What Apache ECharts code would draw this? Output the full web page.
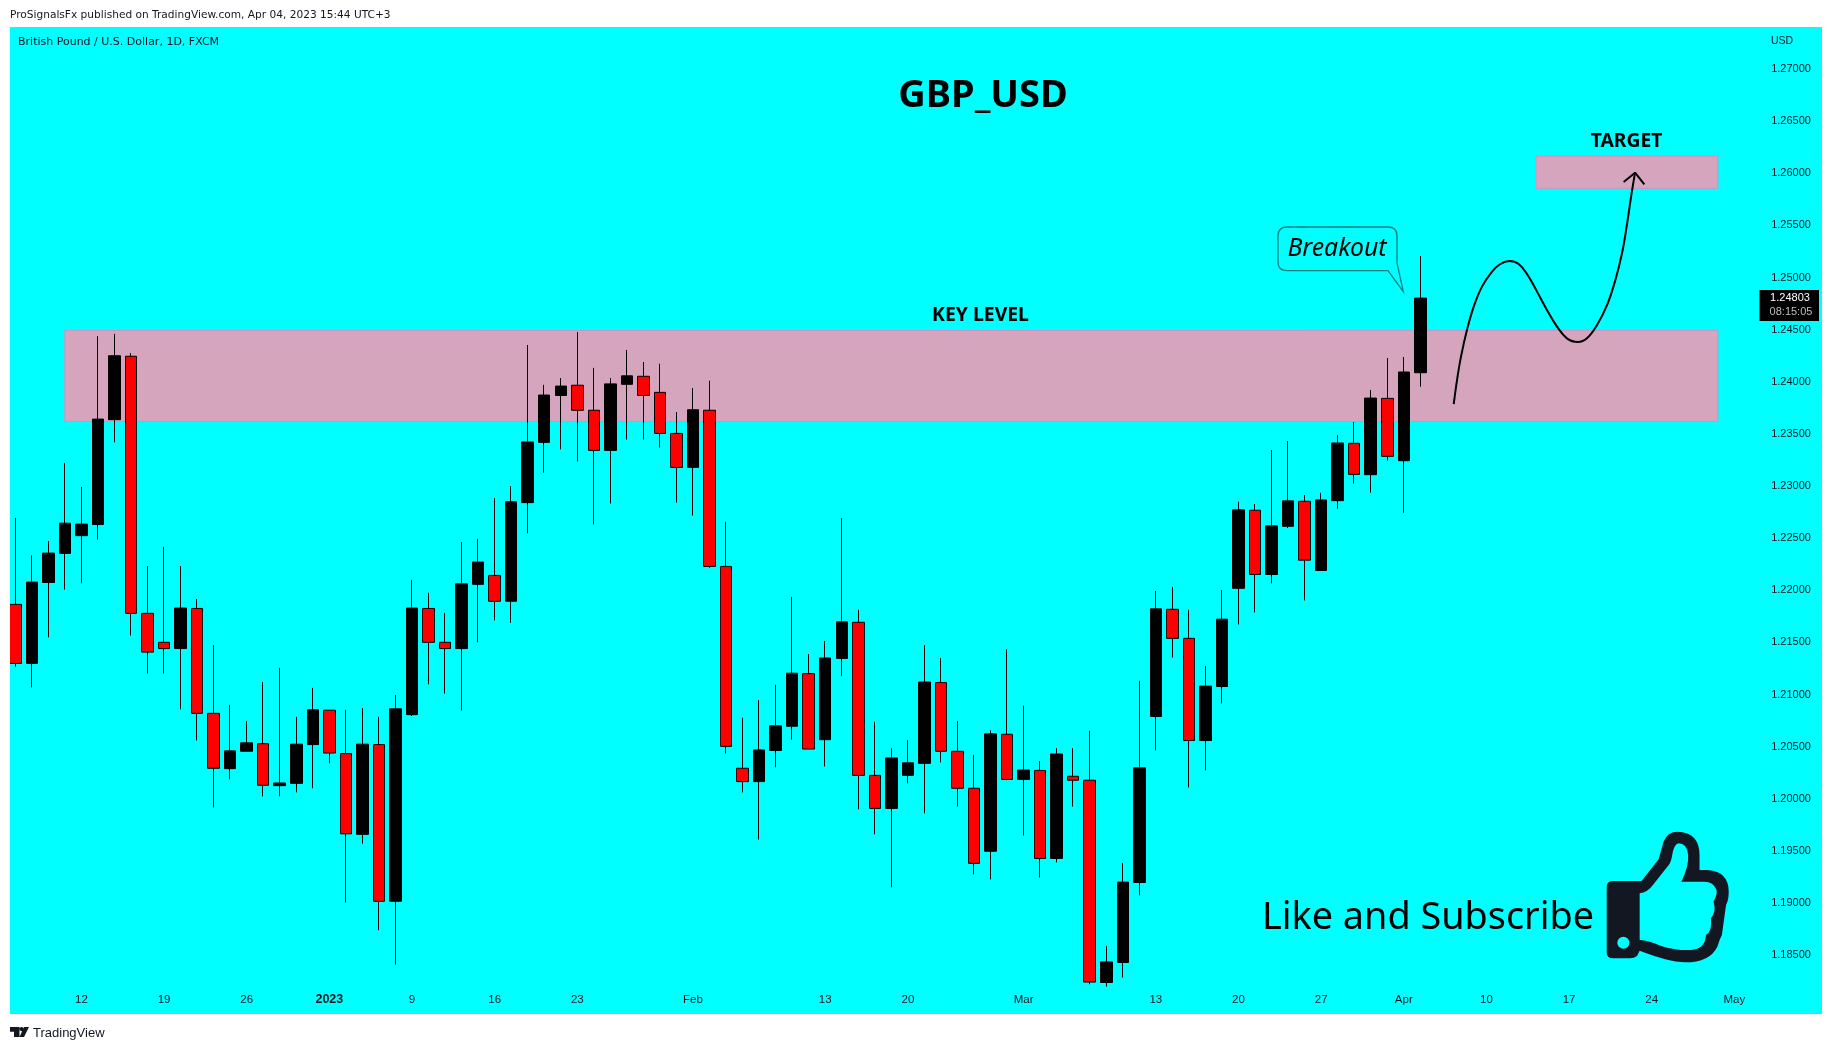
<!DOCTYPE html>
<html><head><meta charset="utf-8">
<style>html,body{margin:0;padding:0;background:#fff}#c{width:1834px;height:1050px}</style>
<script src="https://cdn.jsdelivr.net/npm/echarts@6/dist/echarts.min.js"></script>
</head><body><div id="c"></div>
<script>
const categories = [
"2022-12-06","2022-12-07","2022-12-08","2022-12-09","2022-12-12","2022-12-13","2022-12-14","2022-12-15","2022-12-16",
"2022-12-19","2022-12-20","2022-12-21","2022-12-22","2022-12-23","2022-12-26","2022-12-27","2022-12-28","2022-12-29","2022-12-30",
"2023-01-02","2023-01-03","2023-01-04","2023-01-05","2023-01-06","2023-01-09","2023-01-10","2023-01-11","2023-01-12","2023-01-13",
"2023-01-16","2023-01-17","2023-01-18","2023-01-19","2023-01-20","2023-01-23","2023-01-24","2023-01-25","2023-01-26","2023-01-27",
"2023-01-30","2023-01-31","2023-02-01","2023-02-02","2023-02-03","2023-02-06","2023-02-07","2023-02-08","2023-02-09","2023-02-10",
"2023-02-13","2023-02-14","2023-02-15","2023-02-16","2023-02-17","2023-02-20","2023-02-21","2023-02-22","2023-02-23","2023-02-24",
"2023-02-27","2023-02-28","2023-03-01","2023-03-02","2023-03-03","2023-03-06","2023-03-07","2023-03-08","2023-03-09","2023-03-10",
"2023-03-13","2023-03-14","2023-03-15","2023-03-16","2023-03-17","2023-03-20","2023-03-21","2023-03-22","2023-03-23","2023-03-24",
"2023-03-27","2023-03-28","2023-03-29","2023-03-30","2023-03-31","2023-04-03","2023-04-04","2023-04-05","2023-04-06","2023-04-07",
"2023-04-10","2023-04-11","2023-04-12","2023-04-13","2023-04-14","2023-04-17","2023-04-18","2023-04-19","2023-04-20","2023-04-21",
"2023-04-24","2023-04-25","2023-04-26","2023-04-27","2023-04-28","2023-05-01","2023-05-02"];
const tickLabels = {"2022-12-12":"12","2022-12-19":"19","2022-12-26":"26","2023-01-02":"2023","2023-01-09":"9","2023-01-16":"16","2023-01-23":"23","2023-02-01":"Feb","2023-02-13":"13","2023-02-20":"20","2023-03-01":"Mar","2023-03-13":"13","2023-03-20":"20","2023-03-27":"27","2023-04-03":"Apr","2023-04-10":"10","2023-04-17":"17","2023-04-24":"24","2023-05-01":"May"};
const opens = [1.21865,1.21299,1.22075,1.22353,1.22524,1.22631,1.23637,1.24245,1.21779,1.21501,1.21441,1.21826,1.20820,1.20289,1.20456,1.20529,1.20126,1.20148,1.20520,1.20850,1.20434,1.19659,1.20520,1.19017,1.20807,1.21826,1.21501,1.21441,1.22057,1.22143,1.21895,1.22841,1.23419,1.23869,1.23967,1.23727,1.23342,1.23976,1.24053,1.23899,1.23505,1.23179,1.23727,1.22229,1.20293,1.20165,1.20464,1.20696,1.21201,1.20567,1.21347,1.21693,1.20225,1.19908,1.20225,1.20340,1.21115,1.20456,1.20101,1.19497,1.20619,1.20186,1.20272,1.19428,1.20216,1.20178,1.18238,1.18430,1.19197,1.20790,1.21818,1.21539,1.20559,1.21077,1.22019,1.22768,1.22152,1.22614,1.22854,1.22190,1.22860,1.23410,1.23109,1.23841,1.23243,1.24087];
const closes = [1.21299,1.22079,1.22357,1.22644,1.22635,1.23642,1.24250,1.21779,1.21407,1.21441,1.21830,1.20820,1.20293,1.20460,1.20537,1.20130,1.20152,1.20524,1.20854,1.20439,1.19664,1.20524,1.19017,1.20863,1.21830,1.21501,1.21441,1.22062,1.22271,1.21895,1.22850,1.23423,1.23873,1.23959,1.23727,1.23342,1.23980,1.24057,1.23869,1.23505,1.23179,1.23732,1.22229,1.20503,1.20165,1.20469,1.20700,1.21205,1.20477,1.21351,1.21698,1.20225,1.19908,1.20392,1.20345,1.21120,1.20456,1.20101,1.19381,1.20623,1.20186,1.20276,1.19428,1.20430,1.20178,1.18242,1.18435,1.19201,1.20297,1.21822,1.21539,1.20559,1.21081,1.21723,1.22772,1.22152,1.22618,1.22858,1.22289,1.22867,1.23413,1.23112,1.23844,1.23285,1.24094,1.24803];
const lows = [1.21265,1.21068,1.21548,1.22006,1.22066,1.22486,1.23419,1.21565,1.21201,1.21201,1.20858,1.20559,1.19916,1.20186,1.20456,1.20023,1.20023,1.20062,1.20101,1.20340,1.19004,1.19570,1.18739,1.18409,1.20794,1.21098,1.21008,1.20846,1.21501,1.21711,1.21689,1.22546,1.23128,1.23351,1.23235,1.22631,1.22832,1.23445,1.23445,1.23368,1.22841,1.22717,1.22216,1.20434,1.20062,1.19608,1.20302,1.20567,1.20477,1.20310,1.21175,1.19899,1.19659,1.19150,1.20148,1.19861,1.20349,1.19925,1.19274,1.19227,1.20178,1.19647,1.19244,1.19390,1.19925,1.18221,1.18199,1.18285,1.19073,1.20464,1.21355,1.20109,1.20272,1.20914,1.21672,1.21788,1.22066,1.22597,1.21903,1.22190,1.22783,1.23023,1.22936,1.23243,1.22744,1.23953];
const highs = [1.22695,1.22336,1.22473,1.23222,1.22991,1.24438,1.24460,1.24275,1.22233,1.22417,1.22233,1.21916,1.21475,1.20901,1.20747,1.21120,1.21257,1.20786,1.21064,1.20850,1.20854,1.20871,1.20786,1.20995,1.22100,1.21976,1.21783,1.22464,1.22494,1.22884,1.22999,1.24353,1.23971,1.24036,1.24477,1.24134,1.24036,1.24305,1.24190,1.24173,1.23710,1.23941,1.24010,1.22657,1.20777,1.20948,1.21094,1.21937,1.21389,1.21514,1.22695,1.21813,1.20739,1.20486,1.20563,1.21475,1.21351,1.20747,1.20422,1.20657,1.21436,1.20893,1.20362,1.20486,1.20486,1.20653,1.18589,1.19385,1.21132,1.21993,1.22032,1.21813,1.21274,1.22002,1.22850,1.22828,1.23346,1.23432,1.22914,1.22935,1.23489,1.23614,1.23921,1.24228,1.24238,1.25206];
const keyZone = {from:"2022-12-09", to:"2023-04-28", low:1.2362, high:1.24493};
const targetZone = {from:"2023-04-13", to:"2023-04-28", low:1.25856, high:1.26166};
const forecastPath = [[87.02,1.23787],[87.22,1.24017],[87.46,1.24241],[87.82,1.24497],[88.23,1.24721],[88.73,1.24913],[89.34,1.25057],[89.84,1.25130],[90.39,1.25159],[90.95,1.25130],[91.49,1.25025],[92.06,1.24865],[92.66,1.24689],[93.27,1.24529],[93.87,1.24417],[94.52,1.24382],[95.08,1.24417],[95.69,1.24545],[96.30,1.24737],[96.80,1.24977],[97.20,1.25233],[97.51,1.25520],[97.75,1.25776],[97.99,1.26006]];
const arrowHead = [[97.30,1.25917],[97.99,1.26006],[98.55,1.25894]];

const bubblePath = 'M1287 227 L1388 227 Q1397 227 1397 236 L1397 263 L1403.3 291.7 L1388 270.7 L1287 270.7 Q1278 270.7 1278 262 L1278 236 Q1278 227 1287 227 Z';
const thumbPath = 'M985 243 L1060 243 L1105 178 Q1112 150 1118 125 Q1128 95 1155 95 Q1213 97 1213 165 L1213 210 L1235 210 Q1290 215 1290 275 Q1290 300 1283 315 L1272 405 Q1265 420 1260 440 Q1240 487 1175 487 Q1130 485 1055 452 L1048 468 Q1040 475 1030 475 L985 475 Q968 475 968 458 L968 260 Q968 243 985 243 Z M1055 280 L1055 420 Q1080 422 1110 437 Q1150 452 1190 450 Q1228 448 1230 405 Q1247 395 1243 355 Q1258 335 1250 305 Q1260 285 1258 270 Q1250 245 1225 245 L1165 245 Q1185 200 1183 165 Q1180 130 1158 130 Q1145 132 1140 170 Q1137 190 1128 200 L1090 255 Q1075 278 1055 280 Z M1028 428 A16 18 0 1 0 996 428 A16 18 0 1 0 1028 428 Z';
const logoPath = 'M0 0 L9.5 0 L9.5 9.5 L4 9.5 L4 4.5 L0 4.5 Z M14 0 L19 0 L14 9.5 L9.5 9.5 Z M13.5 2 A2 2 0 1 1 9.5 2 A2 2 0 1 1 13.5 2 Z';

const sans = '"Liberation Sans"';
const txt = (text,x,y,size,o={}) => ({type:'text',x,y,silent:true,z:50,style:Object.assign({text,fontSize:size,fontFamily:o.font||'"Noto Sans"',fontWeight:o.weight||'normal',fontStyle:o.italic?'italic':'normal',fill:o.fill||'#000',textAlign:o.align||'center',textVerticalAlign:'middle'})});
const chart = echarts.init(document.getElementById('c'),null,{renderer:'canvas'});
const zoneStyle = {color:'#d5a5bd',borderColor:'#d98cc0',borderWidth:1};
const pathEl = (pathData,x,y,width,height,style) => ({type:'path',shape:{pathData,x,y,width,height,layout:'cover'},style});
chart.setOption({
  animation:false,
  backgroundColor:'#ffffff',
  grid:{left:7,top:69.05,width:1752.2,height:938.25,containLabel:false},
  xAxis:[
    {type:'category',data:categories,boundaryGap:true,axisLine:{show:false},axisTick:{show:false},splitLine:{show:false},
     axisLabel:{inside:true,margin:1,hideOverlap:false,color:'#131722',fontSize:11.5,fontFamily:sans,
       interval:(i,v)=>!!tickLabels[v],
       formatter:v=>tickLabels[v]==='2023'?'{b|2023}':(tickLabels[v]||''),
       rich:{b:{fontWeight:'bold',fontSize:12.5,fontFamily:sans,color:'#131722'}}}},
    {type:'value',min:-0.5,max:105.5,show:false}
  ],
  yAxis:{type:'value',position:'right',min:1.18,max:1.27,interval:0.005,scale:true,axisLine:{show:false},axisTick:{show:false},splitLine:{show:false},
    axisLabel:{margin:12,padding:[2,0,0,0],color:'#131722',fontSize:11,fontFamily:sans,align:'left',formatter:v=>v<1.1801?'':v.toFixed(5)}},
  series:[
    {type:'candlestick',xAxisIndex:0,yAxisIndex:0,z:5,barWidth:12,
     data:opens.map((o,i)=>[o,closes[i],lows[i],highs[i]]),
     itemStyle:{color:'#000000',color0:'#ff0000',borderColor:'#000000',borderColor0:'#000000',borderWidth:1},
     markArea:{silent:true,z:1,itemStyle:zoneStyle,data:[
       [{xAxis:keyZone.from,yAxis:keyZone.high},{xAxis:keyZone.to,yAxis:keyZone.low}],
       [{xAxis:targetZone.from,yAxis:targetZone.high},{xAxis:targetZone.to,yAxis:targetZone.low}]
     ]}},
    {type:'line',xAxisIndex:1,yAxisIndex:0,z:6,smooth:0.4,showSymbol:false,symbol:'none',silent:true,data:forecastPath,lineStyle:{color:'#000',width:2}},
    {type:'line',xAxisIndex:1,yAxisIndex:0,z:6,showSymbol:false,symbol:'none',silent:true,data:arrowHead,lineStyle:{color:'#000',width:2}},
    {type:'custom',coordinateSystem:'none',z:45,silent:true,data:[0],renderItem:()=>({type:'group',children:[
      pathEl(bubblePath,1278,227,125.3,64.7,{fill:'none',stroke:'#007f7f',lineWidth:1.3}),
      pathEl(thumbPath,1606.7,831.7,122,130.6,{fill:'#131722'}),
      pathEl(logoPath,10,1027,19,10,{fill:'#131722'})
    ]})}
  ],
  graphic:[
    {type:'rect',z:-100,silent:true,shape:{x:10,y:27,width:1812,height:987},style:{fill:'#00ffff'}},
    {type:'rect',z:40,silent:true,shape:{x:0,y:27,width:10,height:987},style:{fill:'#fff'}},
    txt('ProSignalsFx published on TradingView.com, Apr 04, 2023 15:44 UTC+3',10,15,10.6,{align:'left',font:'"DejaVu Sans"',fill:'#131722'}),
    txt('British Pound / U.S. Dollar, 1D, FXCM',18,42,11,{align:'left',font:'"DejaVu Sans"',fill:'#131722'}),
    txt('USD',1771,41,10.5,{align:'left',font:sans,fill:'#131722'}),
    txt('GBP_USD',983,96,38,{weight:'bold'}),
    txt('KEY LEVEL',980.5,315,19.4,{weight:'bold'}),
    txt('TARGET',1626.5,142,19.3,{weight:'bold'}),
    txt('Breakout',1337,249,24.8,{italic:true}),
    txt('Like and Subscribe',1428,918,37.8),
    {type:'rect',z:45,silent:true,shape:{x:1759.5,y:290,width:59.5,height:31},style:{fill:'#000'}},
    txt('1.24803',1790,298,11,{font:sans,fill:'#fff'}),
    txt('08:15:05',1791,312,11,{font:sans,fill:'#bdbdbd'}),
    txt('TradingView',33,1033,13,{align:'left',font:sans,fill:'#131722'})
  ]
});
</script></body></html>
